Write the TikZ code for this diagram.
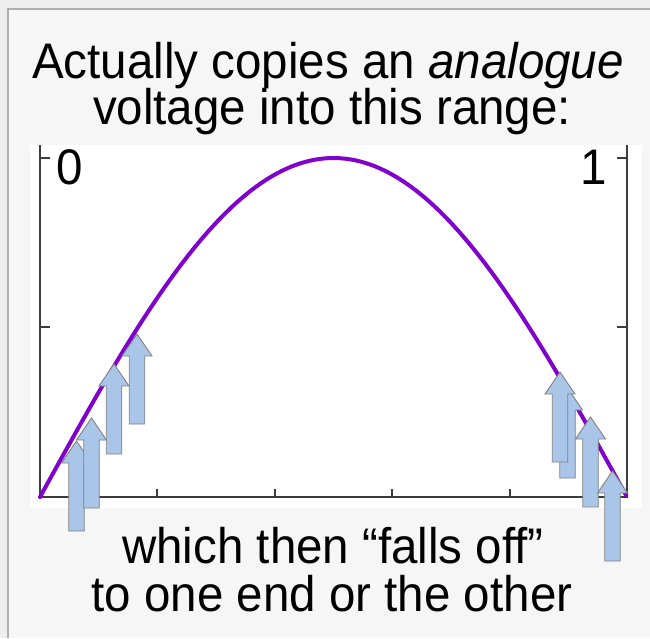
\documentclass[tikz,border=0pt]{standalone}
\usepackage{fontspec}
\setmainfont{Liberation Sans}
\usepackage{tikz}
\definecolor{bgout}{RGB}{238, 238, 238}
\definecolor{bgin}{RGB}{246, 246, 246}
\definecolor{frame}{RGB}{175, 175, 175}
\definecolor{axis}{RGB}{60, 60, 60}
\definecolor{curve}{RGB}{128, 0, 204}
\definecolor{arrowfill}{RGB}{169, 197, 232}
\definecolor{arrowline}{RGB}{130, 130, 130}

\newcommand{\tallsans}[1]{\scalebox{0.95}[1]{#1}}

\tikzset{
  bigtext/.style={font=\fontsize{50}{50}\selectfont, inner sep=0pt, anchor=base},
  axisline/.style={axis, line width=1.4},
  blockarrow/.style={fill=arrowfill, draw=arrowline, line width=0.9, line join=miter}
}

\begin{document}
\begin{tikzpicture}[x=1pt, y=-1pt]

  \pgfmathsetmacro{\xl}{40};
  \pgfmathsetmacro{\xr}{627};
  \pgfmathsetmacro{\yt}{158};
  \pgfmathsetmacro{\yb}{497};

  \useasboundingbox (0, 0) rectangle (650, 638);
  \fill[bgout] (0, 0) rectangle (650, 638);
  \fill[bgin] (8, 9) rectangle (650, 638);
  \draw[frame, line width=1.2] (8, 638) -- (8, 9) -- (650, 9);
  \fill[white] (30, 145) rectangle (642, 508);

  % heading
  \node[bigtext] (title1) at (328, 78) {\tallsans{Actually copies an \textit{analogue}}};
  \node[bigtext] (title2) at (332, 124) {\tallsans{voltage into this range:}};

  % axes
  \draw[axisline] (\xl, 145) -- (\xl, \yb) -- (\xr, \yb) -- (\xr, 145);
  \draw[axisline] (\xl, \yt) -- +(10, 0);
  \draw[axisline] (\xl, 327) -- +(10, 0);
  \draw[axisline] (\xr, \yt) -- +(-10, 0);
  \draw[axisline] (\xr, 327) -- +(-10, 0);
  \draw[axisline] (157, \yb) -- +(0, -8);
  \draw[axisline] (275, \yb) -- +(0, -8);
  \draw[axisline] (392, \yb) -- +(0, -8);
  \draw[axisline] (510, \yb) -- +(0, -8);

  \node[bigtext] (zero) at (70, 184) {\tallsans{0}};
  \node[bigtext] (one) at (594, 184) {\tallsans{1}};

  % the range
  \draw[curve, line width=4, line cap=round]
    plot[domain=0:1, samples=120] ({\xl + (\xr - \xl)*\x}, {\yb - (\yb - \yt)*sin(180*\x)});

  % arrows: centre x, tip y
  \foreach \cx/\ty in {76.5/441, 91.5/418, 114/364, 137/334, 567.5/388, 560/372, 590.5/417, 612.5/471}
    \draw[blockarrow] (\cx, \ty) -- ++(15, 22) -- ++(-7.25, 0) -- ++(0, 68)
      -- ++(-15.5, 0) -- ++(0, -68) -- ++(-7.25, 0) -- cycle;

  % footer
  \node[bigtext] (foot1) at (333, 563) {\tallsans{which then “falls off”}};
  \node[bigtext] (foot2) at (332, 611) {\tallsans{to one end or the other}};

\end{tikzpicture}
\end{document}
